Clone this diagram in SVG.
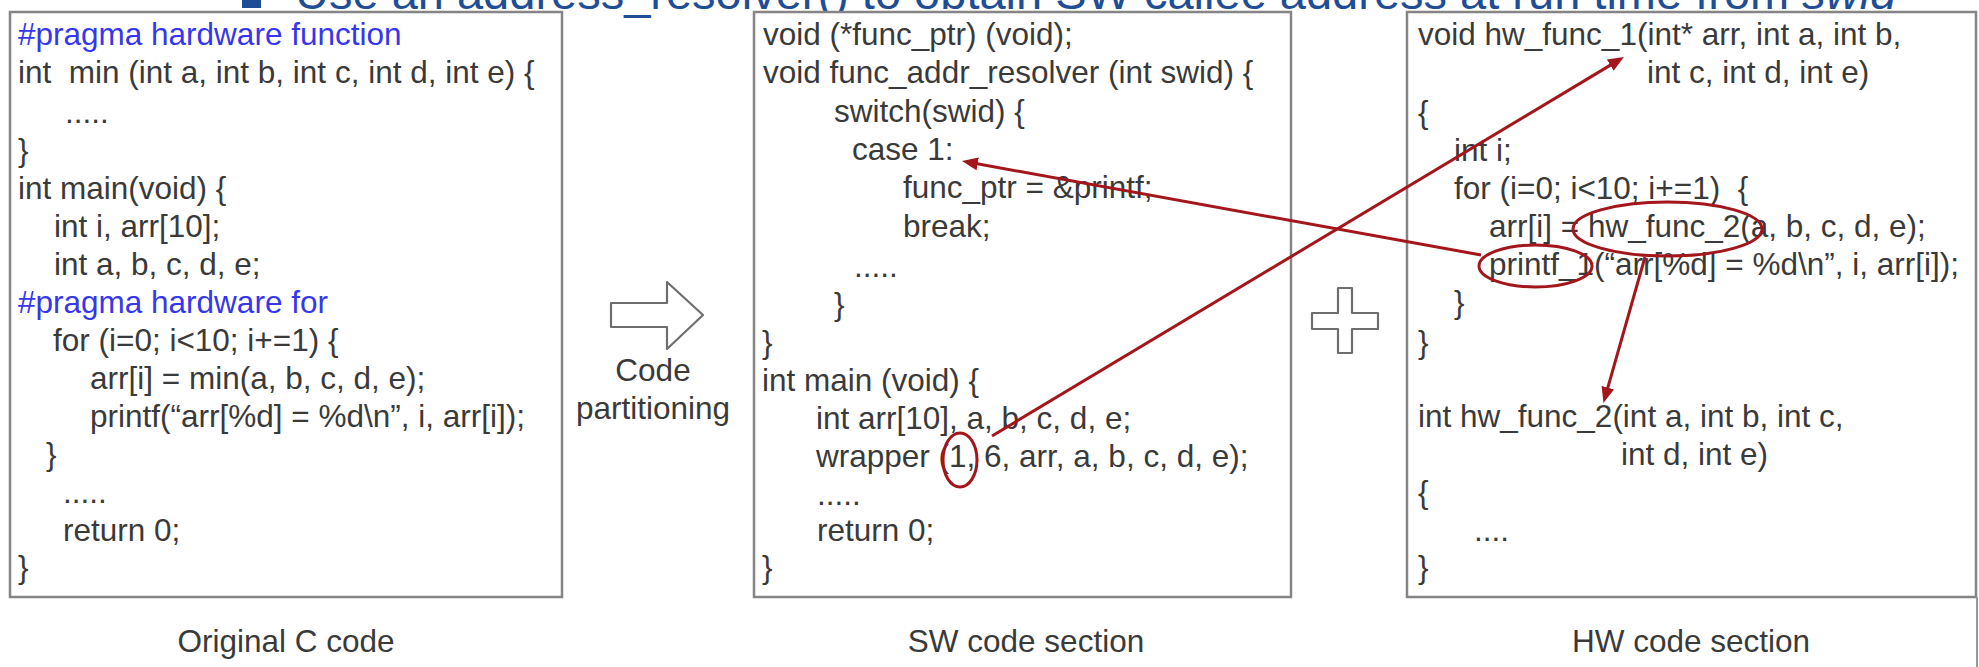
<svg xmlns="http://www.w3.org/2000/svg" width="1979" height="667" viewBox="0 0 1979 667">
  <style>
    .code { font-family: "Liberation Sans", Arial, sans-serif; font-size: 31.5px; fill: #3a3a3a; white-space: pre; }
    .prag { fill: #3636ee; }
    .mid { text-anchor: middle; }
    .title { font-family: "Liberation Sans", Arial, sans-serif; font-size: 47px; fill: #1f4e96; white-space: pre; }
    .box { fill: #ffffff; stroke: #858585; stroke-width: 2.5; }
    .outline { fill: #ffffff; stroke: #6e6e6e; stroke-width: 2.2; stroke-linejoin: round; }
    .link { fill: none; stroke: #a3161c; stroke-width: 3; }
    .ring { fill: none; stroke: #a3161c; stroke-width: 3; }
  </style>
  <defs>
    <marker id="head" markerUnits="userSpaceOnUse" markerWidth="18" markerHeight="14" refX="6" refY="6.5" orient="auto">
      <path d="M0,0 L16,6.5 L0,13 Z" fill="#a3161c"/>
    </marker>
  </defs>

  <rect width="1979" height="667" fill="#ffffff"/>

  <!-- slide heading, cut by the top edge -->
  <g id="heading">
    <rect x="242" y="-11" width="19" height="19" fill="#1f4e96"/>
    <text class="title" x="295" y="9">Use an address_resolver() to obtain SW callee address at run time from <tspan font-style="italic">swid</tspan></text>
  </g>

  <!-- original program -->
  <g id="original-code">
    <rect class="box" x="10" y="12" width="552" height="585"/>
    <text class="code prag" x="18" y="45">#pragma hardware function</text>
    <text class="code" x="18" y="83">int  min (int a, int b, int c, int d, int e) {</text>
    <text class="code" x="65" y="123">.....</text>
    <text class="code" x="18" y="161">}</text>
    <text class="code" x="18" y="199">int main(void) {</text>
    <text class="code" x="54" y="237">int i, arr[10];</text>
    <text class="code" x="54" y="275">int a, b, c, d, e;</text>
    <text class="code prag" x="18" y="313">#pragma hardware for</text>
    <text class="code" x="53" y="351">for (i=0; i&lt;10; i+=1) {</text>
    <text class="code" x="90" y="389">arr[i] = min(a, b, c, d, e);</text>
    <text class="code" x="90" y="427">printf(“arr[%d] = %d\n”, i, arr[i]);</text>
    <text class="code" x="46" y="465">}</text>
    <text class="code" x="63" y="503">.....</text>
    <text class="code" x="63" y="541">return 0;</text>
    <text class="code" x="18" y="578">}</text>
    <text class="code mid" x="286" y="652">Original C code</text>
  </g>

  <!-- partitioning step -->
  <g id="partitioning">
    <polygon class="outline" points="611,303 667,303 667,282 703,315 667,349 667,327 611,327"/>
    <text class="code mid" x="653" y="381">Code</text>
    <text class="code mid" x="653" y="419">partitioning</text>
  </g>

  <!-- software side -->
  <g id="sw-code">
    <rect class="box" x="754" y="12" width="537" height="585"/>
    <text class="code" x="763" y="45">void (*func_ptr) (void);</text>
    <text class="code" x="763" y="83">void func_addr_resolver (int swid) {</text>
    <text class="code" x="834" y="122">switch(swid) {</text>
    <text class="code" x="852" y="160">case 1:</text>
    <text class="code" x="903" y="198">func_ptr = &amp;printf;</text>
    <text class="code" x="903" y="237">break;</text>
    <text class="code" x="854" y="277">.....</text>
    <text class="code" x="834" y="315">}</text>
    <text class="code" x="762" y="353">}</text>
    <text class="code" x="762" y="391">int main (void) {</text>
    <text class="code" x="816" y="429">int arr[10], a, b, c, d, e;</text>
    <text class="code" x="816" y="467">wrapper (1, 6, arr, a, b, c, d, e);</text>
    <text class="code" x="817" y="505">.....</text>
    <text class="code" x="817" y="541">return 0;</text>
    <text class="code" x="762" y="578">}</text>
    <text class="code mid" x="1026" y="652">SW code section</text>
    <ellipse class="ring" cx="960" cy="460" rx="17" ry="27"/>
  </g>

  <!-- combine sign -->
  <g id="plus">
    <polygon class="outline" points="1338,288 1352,288 1352,313 1378,313 1378,329 1352,329 1352,353 1338,353 1338,329 1312,329 1312,313 1338,313"/>
  </g>

  <!-- hardware side -->
  <g id="hw-code">
    <rect class="box" x="1407" y="12" width="569" height="585"/>
    <line x1="1977" y1="597" x2="1977" y2="667" stroke="#9a9a9a" stroke-width="2"/>
    <text class="code" x="1418" y="45">void hw_func_1(int* arr, int a, int b,</text>
    <text class="code" x="1647" y="83">int c, int d, int e)</text>
    <text class="code" x="1418" y="123">{</text>
    <text class="code" x="1454" y="161">int i;</text>
    <text class="code" x="1454" y="199">for (i=0; i&lt;10; i+=1)  {</text>
    <text class="code" x="1489" y="237">arr[i] = hw_func_2(a, b, c, d, e);</text>
    <text class="code" x="1489" y="275">printf_1(“arr[%d] = %d\n”, i, arr[i]);</text>
    <text class="code" x="1454" y="313">}</text>
    <text class="code" x="1418" y="353">}</text>
    <text class="code" x="1418" y="427">int hw_func_2(int a, int b, int c,</text>
    <text class="code" x="1621" y="465">int d, int e)</text>
    <text class="code" x="1418" y="503">{</text>
    <text class="code" x="1474" y="541">....</text>
    <text class="code" x="1418" y="578">}</text>
    <text class="code mid" x="1691" y="652">HW code section</text>
    <ellipse class="ring" cx="1667.5" cy="229" rx="94.5" ry="27"/>
    <ellipse class="ring" cx="1535.5" cy="266" rx="56.5" ry="21"/>
  </g>

  <!-- call links -->
  <g id="connectors">
    <line id="swid-to-hw_func_1" class="link" x1="992" y1="436" x2="1615.4" y2="62.1" marker-end="url(#head)"/>
    <line id="printf_1-to-case1" class="link" x1="1481" y1="255" x2="971.8" y2="162.8" marker-end="url(#head)"/>
    <line id="call-to-hw_func_2" class="link" x1="1645" y1="257" x2="1606.2" y2="393.4" marker-end="url(#head)"/>
  </g>
</svg>
